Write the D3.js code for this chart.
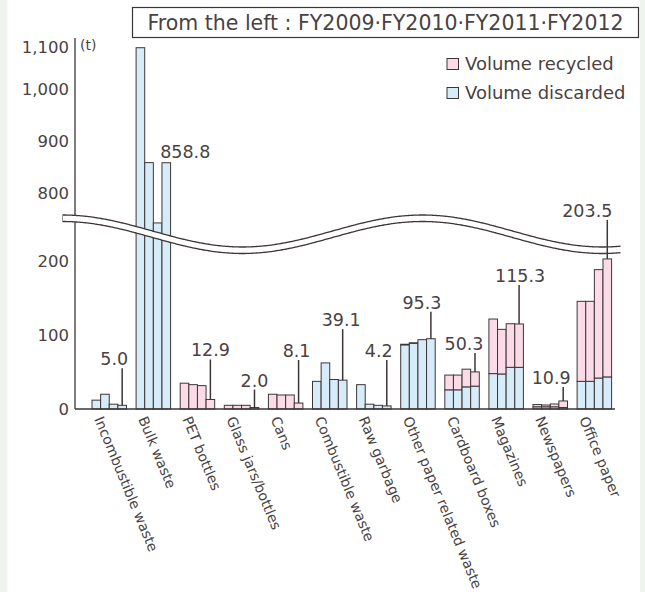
<!DOCTYPE html>
<html>
<head>
<meta charset="utf-8">
<script src="https://cdn.jsdelivr.net/npm/d3@7"></script>
<style>
  html, body { margin: 0; padding: 0; background: #ffffff; }
  svg { display: block; }
  text { font-family: "DejaVu Sans", "Liberation Sans", sans-serif; font-weight: normal; fill: #4a4242; }
</style>
</head>
<body>
<svg id="chart" width="645" height="592"></svg>
<script>
// ---------------- DATA ----------------
const categories = ["Incombustible waste", "Bulk waste", "PET bottles", "Glass jars/bottles", "Cans",
  "Combustible waste", "Raw garbage", "Other paper related waste", "Cardboard boxes", "Magazines",
  "Newspapers", "Office paper"];
const years = ["FY2009", "FY2010", "FY2011", "FY2012"];
// volume discarded (t), one row per category, FY2009..FY2012
const discarded = [
  [12, 20, 6.5, 5.0],
  [1080, 859, 743, 858.8],
  [0, 0, 0, 0],
  [0, 0, 0, 0],
  [0, 0, 0, 0],
  [37.5, 62.5, 40, 39.1],
  [33, 6.5, 5, 4.2],
  [87, 89, 94, 95.3],
  [26, 26, 30, 31],
  [48, 47.5, 56.5, 56.5],
  [3, 3, 3, 2],
  [37.5, 37.5, 42, 43.5]
];
// volume recycled (t)
const recycled = [
  [0, 0, 0, 0],
  [0, 0, 0, 0],
  [35, 33, 31.7, 12.9],
  [5, 5, 5, 2.0],
  [20, 19, 19, 8.1],
  [0, 0, 0, 0],
  [0, 0, 0, 0],
  [0.8, 0.8, 0, 0],
  [20, 20, 24, 19.3],
  [74, 60.5, 59.1, 58.8],
  [3, 2.4, 3.8, 8.9],
  [108.5, 108.5, 147, 160]
];
// FY2012 totals shown as labels
const labelValues = ["5.0", "858.8", "12.9", "2.0", "8.1", "39.1", "4.2", "95.3", "50.3", "115.3", "10.9", "203.5"];
const lowTicks = [0, 100, 200];
const highTicks = [800, 900, 1000, 1100];
const seriesNames = ["Volume recycled", "Volume discarded"];
const titleText = "From the left : FY2009\u00B7FY2010\u00B7FY2011\u00B7FY2012";
const unitText = "(t)";

// ---------------- LAYOUT (not data) ----------------
const labelDx = [-8, 19, 0, 0, -2, -1.5, -8, -9, -11, 1, -12, -20];
const leaderLen = [37, 0, 40, 18, 43, 51, 46, 27, 19, 39, 14, 39];
const breakValue = 300;

const colRec = "#fbdbe7", colDis = "#d6ecf8", colStroke = "#3e3636", colText = "#4a4242";

const svg = d3.select("#chart");
// page background strips
svg.append("rect").attr("x", 0).attr("y", 0).attr("width", 645).attr("height", 592).attr("fill", "#ffffff");
svg.append("rect").attr("x", 0).attr("y", 0).attr("width", 7.5).attr("height", 592).attr("fill", "#eff4ee");
svg.append("rect").attr("x", 640).attr("y", 0).attr("width", 5).attr("height", 592).attr("fill", "#eff4ee");

const axisX = 75, axisTop = 38, axisRight = 615;
const yLow = d3.scaleLinear().domain([0, 200]).range([409, 261.5]);
const yHigh = d3.scaleLinear().domain([800, 1100]).range([193.3, 37.3]);
const yPos = v => v > breakValue ? yHigh(v) : yLow(v);

const x0 = d3.scaleBand().domain(categories).range([92, 611.6]).paddingInner(0.218).paddingOuter(0);
const x1 = d3.scaleBand().domain(years).range([0, x0.bandwidth()]).padding(0);

// title box
svg.append("rect").attr("x", 132.5).attr("y", 7.5).attr("width", 506).attr("height", 30)
  .attr("fill", "#fff").attr("stroke", colStroke).attr("stroke-width", 1.2);
svg.append("text").attr("x", 385.5).attr("y", 30).attr("text-anchor", "middle")
  .attr("font-size", 20.5).text(titleText);

// bars
const groups = svg.append("g").selectAll("g").data(categories).join("g")
  .attr("transform", d => `translate(${x0(d)},0)`);
groups.each(function(cat, i) {
  const g = d3.select(this);
  years.forEach((yr, j) => {
    const dis = discarded[i][j], rec = recycled[i][j], tot = dis + rec;
    const bx = x1(yr), bw = x1.bandwidth();
    if (dis > 0) {
      g.append("rect").attr("x", bx).attr("width", bw)
        .attr("y", yPos(dis)).attr("height", yLow(0) - yPos(dis))
        .attr("fill", colDis).attr("stroke", colStroke).attr("stroke-width", 1);
    }
    if (rec > 0) {
      g.append("rect").attr("x", bx).attr("width", bw)
        .attr("y", yPos(tot)).attr("height", yPos(dis) - yPos(tot))
        .attr("fill", colRec).attr("stroke", colStroke).attr("stroke-width", 1);
    }
  });
});

// axes lines
svg.append("line").attr("x1", axisX).attr("x2", axisX).attr("y1", axisTop).attr("y2", yLow(0))
  .attr("stroke", colStroke).attr("stroke-width", 1.3);
svg.append("line").attr("x1", axisX).attr("x2", axisRight).attr("y1", yLow(0)).attr("y2", yLow(0))
  .attr("stroke", colStroke).attr("stroke-width", 1.3);

// tick labels
function tickAxis(scale, ticks) {
  const g = svg.append("g").attr("transform", `translate(${axisX},0)`)
    .call(d3.axisLeft(scale).tickValues(ticks).tickSize(0).tickPadding(6).tickFormat(d3.format(",")));
  g.select(".domain").remove();
  g.selectAll("text").attr("font-size", 16.5).attr("fill", colText)
    .style("font-family", '"DejaVu Sans", sans-serif');
  return g;
}
tickAxis(yLow, lowTicks);
const hg = tickAxis(yHigh, highTicks);
hg.selectAll(".tick").filter(d => d === 1100).select("text").attr("dy", "0.95em");

svg.append("text").attr("x", 80).attr("y", 50).attr("font-size", 14).text(unitText);

// axis break wave
const waveX = d3.range(62.5, 621, 2);
const waveY = x => 231 - 16 * Math.cos(Math.PI * (x - 62.5) / 180);
const gap = 6.5;
const band = d3.area().x(d => d).y0(d => waveY(d)).y1(d => waveY(d) + gap).curve(d3.curveBasis);
svg.append("path").attr("d", band(waveX)).attr("fill", "#fff").attr("stroke", "none");
const line = d3.line().x(d => d[0]).y(d => d[1]).curve(d3.curveBasis);
svg.append("path").attr("d", line(waveX.map(x => [x, waveY(x)]))).attr("fill", "none")
  .attr("stroke", colStroke).attr("stroke-width", 1.3);
svg.append("path").attr("d", line(waveX.map(x => [x, waveY(x) + gap]))).attr("fill", "none")
  .attr("stroke", colStroke).attr("stroke-width", 1.3);
svg.append("line").attr("x1", 62.5).attr("x2", 62.5).attr("y1", waveY(62.5)).attr("y2", waveY(62.5) + gap)
  .attr("stroke", "#999").attr("stroke-width", 1);

// value labels with leaders (FY2012 bar)
categories.forEach((cat, i) => {
  const tot = discarded[i][3] + recycled[i][3];
  const cx = x0(cat) + x1("FY2012") + x1.bandwidth() / 2;
  const top = yPos(tot);
  const L = leaderLen[i];
  if (L > 0) {
    svg.append("line").attr("x1", cx).attr("x2", cx).attr("y1", top).attr("y2", top - L)
      .attr("stroke", colStroke).attr("stroke-width", 1.5);
  }
  svg.append("text").attr("x", cx + labelDx[i]).attr("y", top - L - (L > 0 ? 3 : 5))
    .attr("text-anchor", "middle").attr("font-size", 17.5).text(labelValues[i]);
});

// legend
const legend = svg.append("g");
[colRec, colDis].forEach((c, k) => {
  const yy = 58.5 + k * 29;
  legend.append("rect").attr("x", 447).attr("y", yy).attr("width", 11.5).attr("height", 11)
    .attr("fill", c).attr("stroke", colStroke).attr("stroke-width", 1);
  legend.append("text").attr("x", 465).attr("y", yy + 11.5).attr("font-size", 18).text(seriesNames[k]);
});

// category labels
categories.forEach(cat => {
  svg.append("text").attr("transform", `translate(${x0(cat) + 2},419) rotate(67.5)`)
    .attr("font-size", 14).text(cat);
});
</script>
</body>
</html>
